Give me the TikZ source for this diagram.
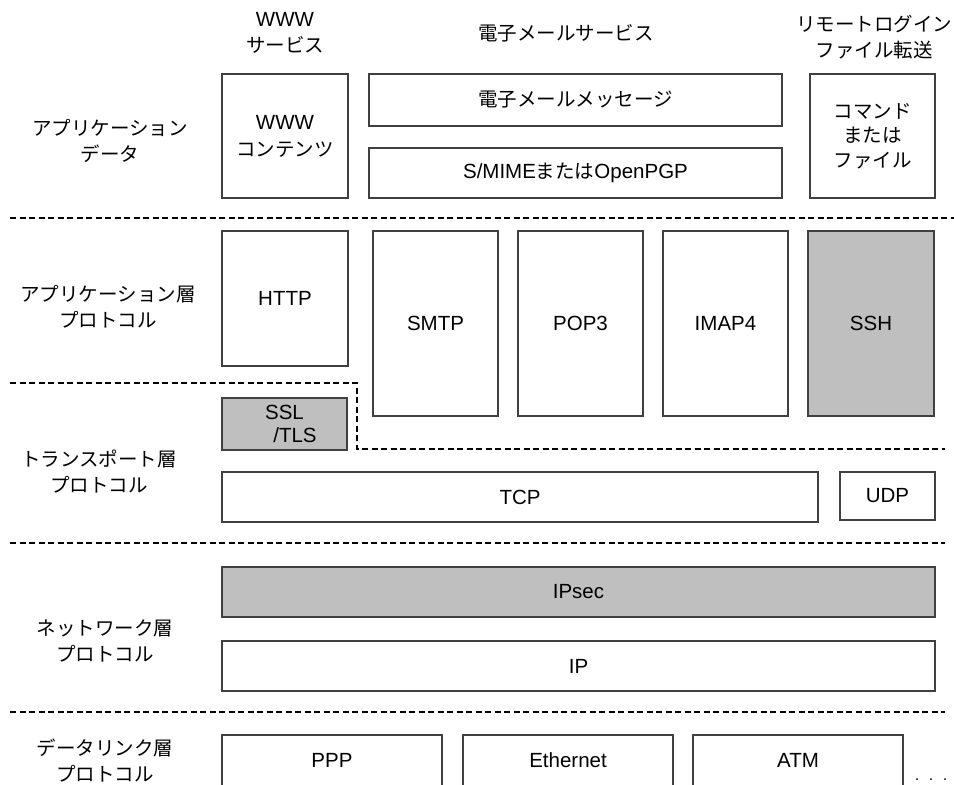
\documentclass[tikz,border=0pt]{standalone}
\usepackage{fontspec}
\setmainfont{Liberation Sans}
\newfontfamily\ja{Noto Sans CJK JP}
\newfontfamily\en{Liberation Sans}
\begin{document}
\begin{tikzpicture}[x=1pt,y=-1pt,
  every node/.style={font=\fontsize{20.5}{27}\selectfont, align=center, inner sep=0pt},
  box/.style={draw=black!75, line width=1.3pt, fill=white},
  graybox/.style={box, fill=black!25},
  sep/.style={draw=black, line width=1.8pt, dash pattern=on 6pt off 3.5pt},
  jtext/.style={font=\fontsize{19.5}{26}\selectfont\ja}]
\useasboundingbox (0,0) rectangle (954,785);

% column headings
\node[jtext] (hwww) at (285,33) {{\en\fontsize{20.5}{26}\selectfont WWW}\\サービス};
\node[jtext] (hmail) at (566,33) {電子メールサービス};
\node[jtext] (hremote) at (874,37) {リモートログイン\\ファイル転送};

% layer labels
\node[jtext] (lapp) at (110,141) {アプリケーション\\データ};
\node[jtext] (lappp) at (108,307) {アプリケーション層\\プロトコル};
\node[jtext] (ltrans) at (99,472) {トランスポート層\\プロトコル};
\node[jtext] (lnet) at (105,641) {ネットワーク層\\プロトコル};
\node[jtext] (llink) at (105,761) {データリンク層\\プロトコル};

% application data
\node[box, minimum width=126pt, minimum height=124pt] (wwwc) at (285,136) {WWW\\{\ja\fontsize{19.5}{27}\selectfont コンテンツ}};
\node[box, minimum width=413pt, minimum height=52pt, jtext] (mailmsg) at (575.5,100) {電子メールメッセージ};
\node[box, minimum width=413pt, minimum height=50pt] (smime) at (575.5,173) {S/MIME{\ja\fontsize{19.5}{27}\selectfont または}OpenPGP};
\node[box, minimum width=125pt, minimum height=124pt, jtext, font=\fontsize{19.5}{24.5}\selectfont\ja] (cmd) at (872.5,136) {コマンド\\または\\ファイル};

\draw[sep] (10,218) -- (954,218);

% application layer protocols
\node[box, minimum width=126pt, minimum height=135pt] (http) at (285,298.5) {HTTP};
\node[box, minimum width=125pt, minimum height=185pt] (smtp) at (435.5,323.5) {SMTP};
\node[box, minimum width=125pt, minimum height=185pt] (pop3) at (580.5,323.5) {POP3};
\node[box, minimum width=125pt, minimum height=185pt] (imap) at (725.5,323.5) {IMAP4};
\node[graybox, minimum width=126pt, minimum height=185pt] (ssh) at (871,323.5) {SSH};

\draw[sep] (10,383) -- (357,383) -- (357,449) -- (945,449);

% transport layer protocols
\node[graybox, minimum width=125pt, minimum height=52pt, font=\fontsize{20.5}{23}\selectfont] (ssl) at (284.5,424) {SSL\\\hspace*{21pt}/TLS};
\node[box, minimum width=596pt, minimum height=50pt] (tcp) at (520,497) {TCP};
\node[box, minimum width=95pt, minimum height=48pt] (udp) at (887.5,496) {UDP};

\draw[sep] (10,543) -- (945,543);

% network layer protocols
\node[graybox, minimum width=713pt, minimum height=50pt] (ipsec) at (578.5,592) {IPsec};
\node[box, minimum width=713pt, minimum height=50pt] (ip) at (578.5,666) {IP};

\draw[sep] (10,712) -- (945,712);

% data link layer protocols (boxes run past the lower edge)
\node[box, minimum width=220pt, minimum height=70pt] (ppp) at (332,770) {};
\node[box, minimum width=210pt, minimum height=70pt] (eth) at (568,770) {};
\node[box, minimum width=210pt, minimum height=70pt] (atm) at (798,770) {};
\node (tppp) at ([yshift=-26pt]ppp.north) {PPP};
\node (teth) at ([yshift=-26pt]eth.north) {Ethernet};
\node (tatm) at ([yshift=-26pt]atm.north) {ATM};
\foreach \px in {917,931,945} \fill (\px,779) circle (1pt);
\end{tikzpicture}
\end{document}
